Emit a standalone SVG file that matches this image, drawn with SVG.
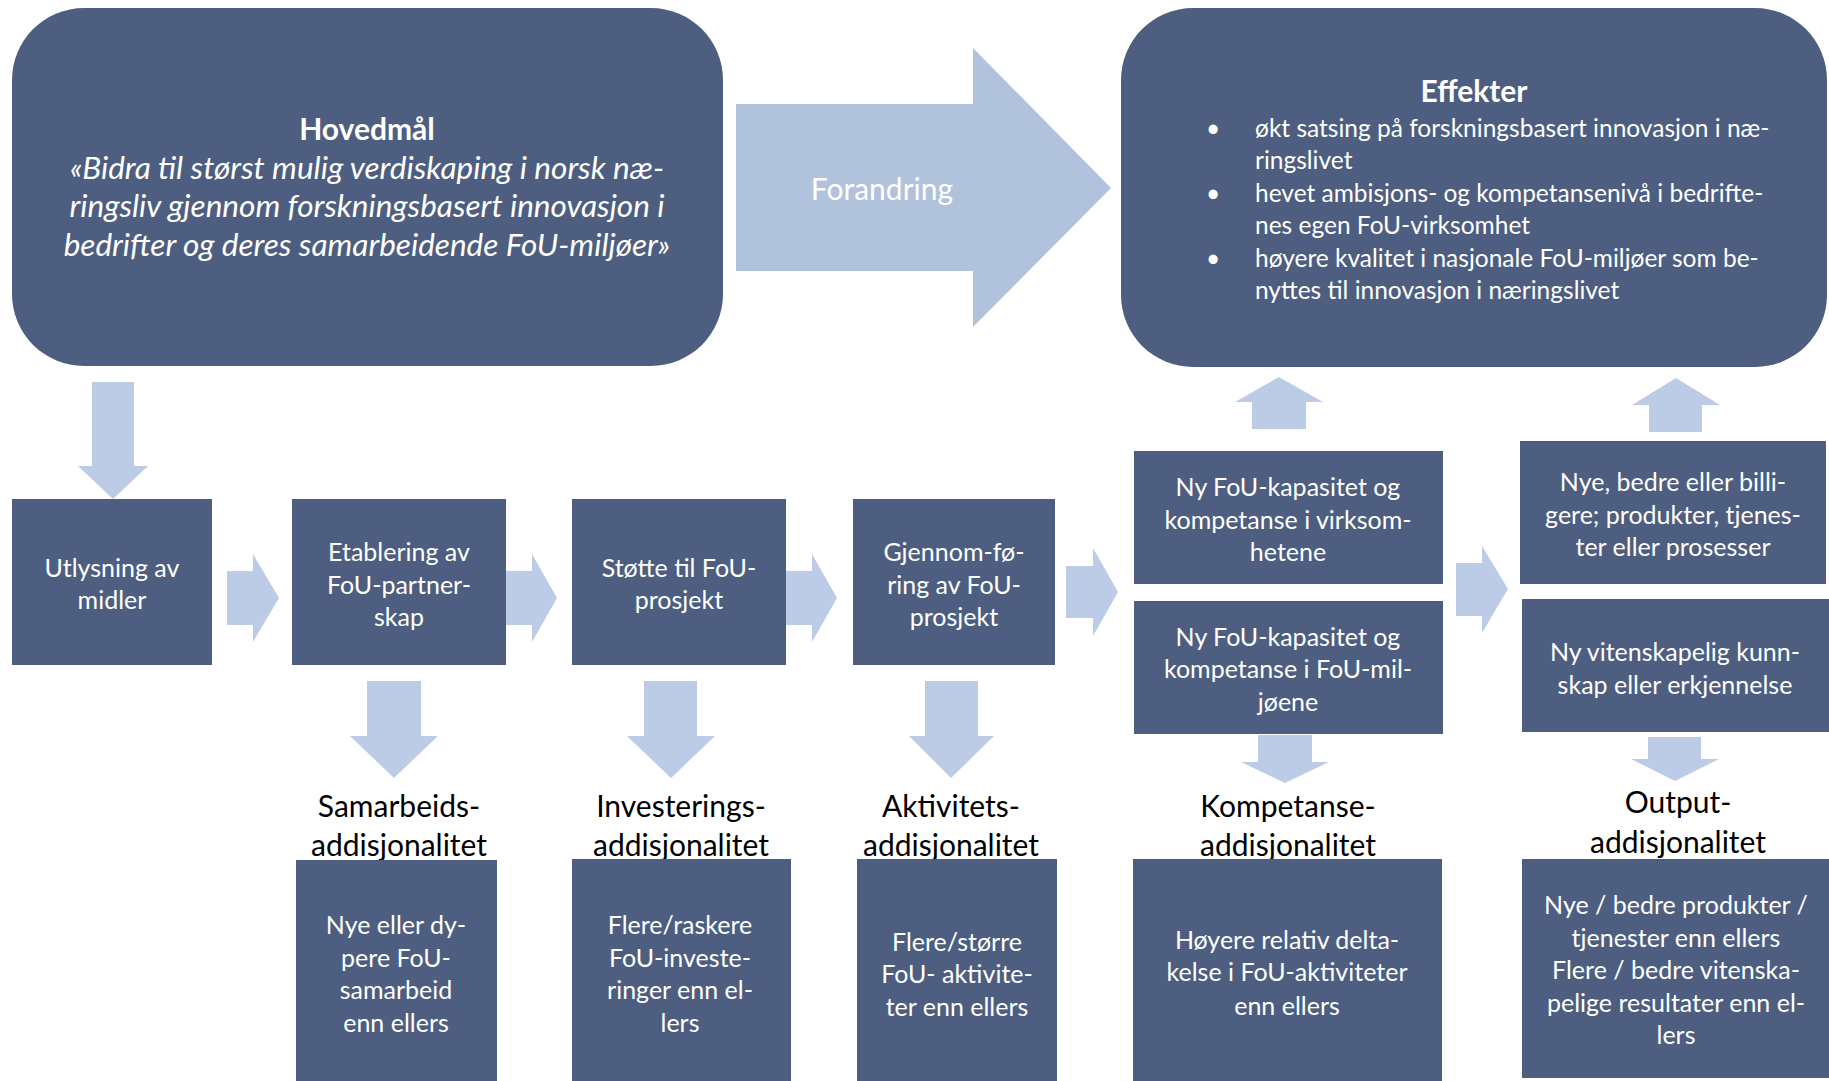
<svg xmlns="http://www.w3.org/2000/svg" width="1829" height="1081" viewBox="0 0 1829 1081">
<style>
.box{fill:#4D5E80}
.arr{fill:#BCCCE7}
.big{fill:#B0C2DC}
text{font-family:Lato,"Open Sans","Liberation Sans",sans-serif}
.t{fill:#FFFFFF;font-size:25px;text-anchor:middle}
.lab{fill:#000000;font-size:30px;text-anchor:middle}
.hd{fill:#FFFFFF;font-size:31.5px;font-style:italic;text-anchor:middle}
.hb{fill:#FFFFFF;font-size:30px;font-weight:bold;text-anchor:middle}
.ef{fill:#FFFFFF;font-size:24.5px}
</style>
<rect width="1829" height="1081" fill="#FFFFFF"/>
<g id="connectors">
<polygon class="big" points="736,104 973,104 973,48 1111,188 973,327 973,271 736,271"/>
<text x="882" y="200" style="fill:#FFFFFF;font-size:30px;text-anchor:middle">Forandring</text>
<polygon class="arr" points="92,382 134,382 134,466 148,466 113,499 78,466 92,466"/>
<polygon class="arr" points="227,571 253,571 253,554 279,598 253,642 253,625 227,625"/>
<polygon class="arr" points="505,571 532,571 532,554 557,598 532,642 532,625 505,625"/>
<polygon class="arr" points="786,571 812,571 812,554 837,598 812,642 812,625 786,625"/>
<polygon class="arr" points="1066,566 1093,566 1093,548 1118,592 1093,636 1093,618 1066,618"/>
<polygon class="arr" points="1456,563 1482,563 1482,546 1508,589 1482,633 1482,616 1456,616"/>
<polygon class="arr" points="367,681 421,681 421,736 438,736 394,778 350,736 367,736"/>
<polygon class="arr" points="644,681 697,681 697,736 715,736 671,778 627,736 644,736"/>
<polygon class="arr" points="925,681 978,681 978,736 994,736 951,778 909,736 925,736"/>
<polygon class="arr" points="1258,735 1312,735 1312,762 1329,762 1285,783 1241,762 1258,762"/>
<polygon class="arr" points="1648,737 1701,737 1701,759 1719,759 1675,781 1631,759 1648,759"/>
<polygon class="arr" points="1252,429 1306,429 1306,402 1323,402 1279,377 1235,402 1252,402"/>
<polygon class="arr" points="1649,432 1702,432 1702,405 1720,405 1676,378 1632,405 1649,405"/>
</g>
<g id="hovedmal">
<rect class="box" x="12" y="8" width="711" height="358" rx="72" ry="72"/>
<text class="hb" x="367" y="140">Hovedmål</text>
<text class="hd" x="367" y="179">«Bidra til størst mulig verdiskaping i norsk næ-</text>
<text class="hd" x="367" y="217">ringsliv gjennom forskningsbasert innovasjon i</text>
<text class="hd" x="367" y="256">bedrifter og deres samarbeidende FoU-miljøer»</text>
</g>
<g id="effekter">
<rect class="box" x="1121" y="8" width="706" height="359" rx="72" ry="72"/>
<text class="hb" x="1474" y="102">Effekter</text>
<text class="ef" x="1206" y="137">•</text>
<text class="ef" x="1255" y="137">økt satsing på forskningsbasert innovasjon i næ-</text>
<text class="ef" x="1255" y="169">ringslivet</text>
<text class="ef" x="1206" y="202">•</text>
<text class="ef" x="1255" y="202">hevet ambisjons- og kompetansenivå i bedrifte-</text>
<text class="ef" x="1255" y="234">nes egen FoU-virksomhet</text>
<text class="ef" x="1206" y="267">•</text>
<text class="ef" x="1255" y="267">høyere kvalitet i nasjonale FoU-miljøer som be-</text>
<text class="ef" x="1255" y="299">nyttes til innovasjon i næringslivet</text>
</g>
<g id="utlysning">
<rect class="box" x="12" y="499" width="200" height="166"/>
<text class="t" x="112" y="577">Utlysning av</text>
<text class="t" x="112" y="609">midler</text>
</g>
<g id="etablering">
<rect class="box" x="292" y="499" width="214" height="166"/>
<text class="t" x="399" y="561">Etablering av</text>
<text class="t" x="399" y="594">FoU-partner-</text>
<text class="t" x="399" y="626">skap</text>
</g>
<g id="stotte">
<rect class="box" x="572" y="499" width="214" height="166"/>
<text class="t" x="679" y="577">Støtte til FoU-</text>
<text class="t" x="679" y="609">prosjekt</text>
</g>
<g id="gjennomforing">
<rect class="box" x="853" y="499" width="202" height="166"/>
<text class="t" x="954" y="561">Gjennom-fø-</text>
<text class="t" x="954" y="594">ring av FoU-</text>
<text class="t" x="954" y="626">prosjekt</text>
</g>
<g id="kapasitet-virksomhetene">
<rect class="box" x="1134" y="451" width="309" height="133"/>
<text class="t" x="1288" y="496">Ny FoU-kapasitet og</text>
<text class="t" x="1288" y="529">kompetanse i virksom-</text>
<text class="t" x="1288" y="561">hetene</text>
</g>
<g id="kapasitet-miljoene">
<rect class="box" x="1134" y="601" width="309" height="133"/>
<text class="t" x="1288" y="646">Ny FoU-kapasitet og</text>
<text class="t" x="1288" y="678">kompetanse i FoU-mil-</text>
<text class="t" x="1288" y="711">jøene</text>
</g>
<g id="produkter">
<rect class="box" x="1520" y="441" width="306" height="143"/>
<text class="t" x="1673" y="491">Nye, bedre eller billi-</text>
<text class="t" x="1673" y="524">gere; produkter, tjenes-</text>
<text class="t" x="1673" y="556">ter eller prosesser</text>
</g>
<g id="kunnskap">
<rect class="box" x="1522" y="599" width="307" height="133"/>
<text class="t" x="1675" y="661">Ny vitenskapelig kunn-</text>
<text class="t" x="1675" y="694">skap eller erkjennelse</text>
</g>
<g id="samarbeid">
<text class="lab" x="399" y="817">Samarbeids-</text>
<text class="lab" x="399" y="856">addisjonalitet</text>
<rect class="box" x="296" y="860" width="201" height="221"/>
<text class="t" x="396" y="934">Nye eller dy-</text>
<text class="t" x="396" y="967">pere FoU-</text>
<text class="t" x="396" y="999">samarbeid</text>
<text class="t" x="396" y="1032">enn ellers</text>
</g>
<g id="investering">
<text class="lab" x="681" y="817">Investerings-</text>
<text class="lab" x="681" y="856">addisjonalitet</text>
<rect class="box" x="572" y="859" width="219" height="222"/>
<text class="t" x="680" y="934">Flere/raskere</text>
<text class="t" x="680" y="967">FoU-investe-</text>
<text class="t" x="680" y="999">ringer enn el-</text>
<text class="t" x="680" y="1032">lers</text>
</g>
<g id="aktivitet">
<text class="lab" x="951" y="817">Aktivitets-</text>
<text class="lab" x="951" y="856">addisjonalitet</text>
<rect class="box" x="857" y="859" width="200" height="222"/>
<text class="t" x="957" y="951">Flere/større</text>
<text class="t" x="957" y="983">FoU- aktivite-</text>
<text class="t" x="957" y="1016">ter enn ellers</text>
</g>
<g id="kompetanse">
<text class="lab" x="1288" y="817">Kompetanse-</text>
<text class="lab" x="1288" y="856">addisjonalitet</text>
<rect class="box" x="1133" y="859" width="309" height="222"/>
<text class="t" x="1287" y="949">Høyere relativ delta-</text>
<text class="t" x="1287" y="981">kelse i FoU-aktiviteter</text>
<text class="t" x="1287" y="1015">enn ellers</text>
</g>
<g id="output">
<text class="lab" x="1678" y="813">Output-</text>
<text class="lab" x="1678" y="853">addisjonalitet</text>
<rect class="box" x="1522" y="859" width="307" height="219"/>
<text class="t" x="1676" y="914">Nye / bedre produkter /</text>
<text class="t" x="1676" y="947">tjenester enn ellers</text>
<text class="t" x="1676" y="979">Flere / bedre vitenska-</text>
<text class="t" x="1676" y="1012">pelige resultater enn el-</text>
<text class="t" x="1676" y="1044">lers</text>
</g>
</svg>
